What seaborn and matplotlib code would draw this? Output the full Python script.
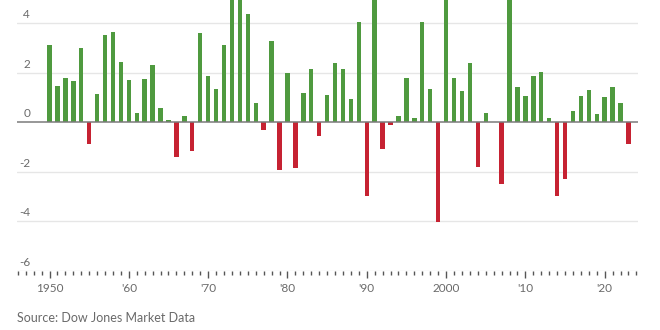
import numpy as np
import pandas as pd
import matplotlib
matplotlib.use("Agg")
import matplotlib.pyplot as plt
import seaborn as sns
from matplotlib.ticker import MultipleLocator, FixedLocator

years = list(range(1950, 2024))
values = [3.10, 1.44, 1.77, 1.64, 2.98, -0.89, 1.12, 3.50, 3.63, 2.41,
          1.70, 0.35, 1.72, 2.29, 0.55, 0.07, -1.42, 0.26, -1.16, 3.58,
          1.87, 1.35, 3.10, 5.60, 5.30, 4.37, 0.78, -0.34, 3.27, -1.94,
          1.98, -1.87, 1.16, 2.13, -0.57, 1.08, 2.39, 2.13, 0.93, 4.04,
          -3.00, 5.80, -1.10, -0.12, 0.23, 1.77, 0.15, 4.04, 1.32, -4.05,
          5.40, 1.77, 1.24, 2.39, -1.82, 0.38, 0.00, -2.51, 5.50, 1.40,
          1.04, 1.85, 2.01, 0.15, -3.00, -2.30, 0.43, 1.04, 1.29, 0.31,
          1.01, 1.40, 0.78, -0.89]
y_ticks = [4, 2, 0, -2, -4, -6]
y_labels = ["4", "2", "0", "-2", "-4", "-6"]
x_ticks = [1950, 1960, 1970, 1980, 1990, 2000, 2010, 2020]
x_labels = ["1950", "'60", "'70", "'80", "'90", "2000", "'10", "'20"]
source = "Source: Dow Jones Market Data"

GREEN = "#4f9a3f"
RED = "#c62232"

df = pd.DataFrame({"year": years, "value": values})
df["sign"] = np.where(df["value"] >= 0, "up", "down")

sns.set_theme(style="white")
plt.rcParams["font.family"] = ["Lato", "DejaVu Sans"]

fig = plt.figure(figsize=(6.6, 3.3), dpi=100)
ax = fig.add_axes([17 / 660, 1 - 270.5 / 330, 621 / 660, 270.5 / 330])

sns.barplot(data=df, x="year", y="value", hue="sign",
            palette={"up": GREEN, "down": RED}, native_scale=True,
            dodge=False, width=0.56, legend=False, ax=ax, saturation=1,
            linewidth=0)

ax.set_xlim(1945.9, 2024.2)
ax.set_ylim(-6, 4.93)

for s in ax.spines.values():
    s.set_visible(False)

for t in y_ticks:
    if t == 0:
        ax.axhline(t, color="#7a7a7a", lw=1.1, zorder=3)
    else:
        ax.axhline(t, color="#e6e6e6", lw=1.0, zorder=0)

ax.set_yticks([])
trans = matplotlib.transforms.blended_transform_factory(ax.transAxes, ax.transData)
for t, lab in zip(y_ticks, y_labels):
    ax.text(0.021, t + 0.12, lab, transform=trans, ha="right", va="bottom",
            fontsize=8.5, color="#6a6a6a")

ax.xaxis.set_major_locator(FixedLocator(x_ticks))
ax.xaxis.set_minor_locator(MultipleLocator(1))
ax.set_xticklabels(x_labels)
ax.tick_params(axis="x", which="major", length=5, width=1.0, color="#555555",
               pad=4, labelsize=8.5, labelcolor="#6a6a6a", bottom=True)
ax.tick_params(axis="x", which="minor", length=3, width=1.0, color="#555555",
               bottom=True)
ax.set_xlabel("")
ax.set_ylabel("")

fig.text(17 / 660, 1 - 318 / 330, source, ha="left", va="center",
         fontsize=9, color="#6a6a6a")

fig.savefig("out.png", dpi=100)
